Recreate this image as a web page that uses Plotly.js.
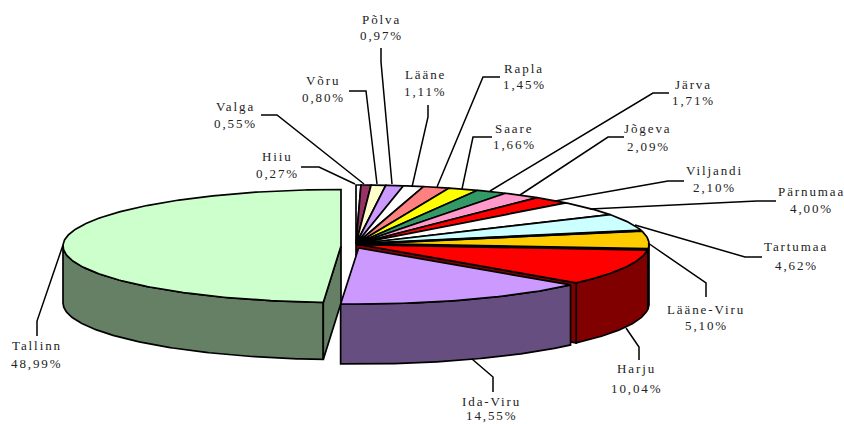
<!DOCTYPE html>
<html><head><meta charset="utf-8">
<script src="https://cdn.plot.ly/plotly-3.0.1.min.js"></script>
<style>
html,body{margin:0;padding:0;background:#fff;overflow:hidden}
.annotation-text{letter-spacing:1.9px}
</style></head><body><div id="chart" style="width:844px;height:424px"></div>
<script>
// Data, clockwise from 12 o'clock
const names=["Hiiu","Valga","Võru","Põlva","Lääne","Rapla","Saare","Järva","Jõgeva","Viljandi","Pärnumaa","Tartumaa","Lääne-Viru","Harju","Ida-Viru","Tallinn"];
const shares=[0.27,0.55,0.80,0.97,1.11,1.45,1.66,1.71,2.09,2.10,4.00,4.62,5.10,10.04,14.55,48.99];
// Styles
const topColors=["#FFFFFF","#993366","#FFFFCC","#CC99FF","#FFFFFF","#FF8080","#FFFF00","#339966","#FF99CC","#FF0000","#FFFFFF","#CCFFFF","#FFCC00","#FF0000","#CC99FF","#CCFFCC"];
const wallColors=["#808080","#4D1A33","#808066","#664D80","#808080","#804040","#808000","#1A4D33","#804D66","#800000","#808080","#668080","#806600","#800000","#664F80","#668066"];
// Projected geometry: main disc and the two pulled-out wedges
const mainDisc={cx:356,cy:244,rx:293,ry:59,d:60};
const discs={"Ida-Viru":{cx:358.6,cy:248,rx:282,ry:56,d:60},"Tallinn":{cx:341,cy:246,rx:278,ry:56.5,d:57}};
const thickEdges={"Lääne-Viru":2.4,"Harju":3.2};
// Label placement: [x, y of name, y of percentage], and leader path from label side toward the slice
const labelPos=[[277,156,173],[235,106,123],[323,80,97],[381,19,35],[425,74,91],[524,68,84],[514,128,144],[693,84,100],[648,128,146],[714,170,187],[811,191,208],[796,246,265],[706,309,325],[636,368,388],[491,401,415.5],[36.5,345,363]];
const leaderPaths=[[[301,167],[319,167]],[[261,115],[277,115]],[[349,91],[366,91]],[[381,48],[381,62]],[[428,105],[428,117]],[[500,77],[483,77]],[[492,137],[473,137]],[[669,93],[653,93]],[[624,137],[608,137]],[[684,181],[668,181]],[[776,201],[757,201]],[[762,257],[745,257]],[[706,297],[706,283]],[[639,360],[639,347]],[[493,392],[493,377]],[[37,336],[37,321]]];
const leaderEnds=[[355,184],[364,184],[377,184],[392,184],[412,187],[437,187],[462,189],[490,191],[520,195],[555,201],[590,209],[635,225],[648,243],[626,328],[472,359],[63,245]];

const total=shares.reduce((a,b)=>a+b,0);
let acc=0;
const slices=names.map((n,i)=>{const a0=acc/total*2*Math.PI;acc+=shares[i];const a1=acc/total*2*Math.PI;
  return {name:n,a0,a1,color:topColors[i],wall:wallColors[i],g:discs[n]||mainDisc};});
const pt=(g,a,dz=0)=>[g.cx+g.rx*Math.sin(a),g.cy-g.ry*Math.cos(a)+dz];
function arc(g,a0,a1,dz=0){const n=Math.max(2,Math.ceil(Math.abs(a1-a0)/0.012));const out=[];
  for(let k=0;k<=n;k++)out.push(pt(g,a0+(a1-a0)*k/n,dz));return out;}
function poly(pts,fill,w){const c=pts.concat([pts[0]]);return {type:"scatter",mode:"lines",x:c.map(p=>p[0]),y:c.map(p=>p[1]),
  fill:"toself",fillcolor:fill,line:{color:"#000",width:w},hoverinfo:"skip",showlegend:false};}
function line(pts,w){return {type:"scatter",mode:"lines",x:pts.map(p=>p[0]),y:pts.map(p=>p[1]),line:{color:"#000",width:w||1.5},hoverinfo:"skip",showlegend:false};}

const traces=[];
const order=slices.filter(s=>s.g===mainDisc).concat(slices.filter(s=>s.g!==mainDisc));
const lo=Math.PI/2,hi=3*Math.PI/2;
const W=1.7;
order.forEach(s=>{const g=s.g;
  const w0=Math.max(s.a0,lo),w1=Math.min(s.a1,hi);
  if(w1>w0)traces.push(poly(arc(g,w0,w1).concat(arc(g,w1,w0,g.d)),s.wall,W));
  if(s.name==="Harju"||s.name==="Tallinn"){
    const a=s.name==="Harju"?s.a1:s.a0;const c=[g.cx,g.cy],o=pt(g,a);
    traces.push(poly([c,o,[o[0],o[1]+g.d],[c[0],c[1]+g.d]],s.wall,W));
  }
  traces.push(poly([[g.cx,g.cy]].concat(arc(g,s.a0,s.a1)),s.color,W));
});
// Heavier dividers where the reference's slice edges merge
slices.forEach(s=>{if(thickEdges[s.name])traces.push(line([[s.g.cx,s.g.cy],pt(s.g,s.a0)],thickEdges[s.name]));});
// Leaders
leaderPaths.forEach((p,i)=>traces.push(line(p.concat([leaderEnds[i]]),1.5)));

const fmt=v=>v.toFixed(2).replace(".",",")+"%";
const annotations=[];
const txt=(x,y,t)=>({x,y,text:t,xref:"x",yref:"y",showarrow:false,xanchor:"center",yanchor:"middle",
  font:{family:"Liberation Serif, serif",size:13,color:"#222"}});
names.forEach((n,i)=>{const l=labelPos[i];annotations.push(txt(l[0],l[1],n),txt(l[0],l[2],fmt(shares[i])));});

Plotly.newPlot("chart",traces,{width:844,height:424,margin:{l:0,r:0,t:0,b:0},paper_bgcolor:"#fff",plot_bgcolor:"#fff",showlegend:false,
  xaxis:{range:[0,844],visible:false,fixedrange:true},yaxis:{range:[424,0],visible:false,fixedrange:true},annotations},{displayModeBar:false,staticPlot:true});
</script></body></html>
